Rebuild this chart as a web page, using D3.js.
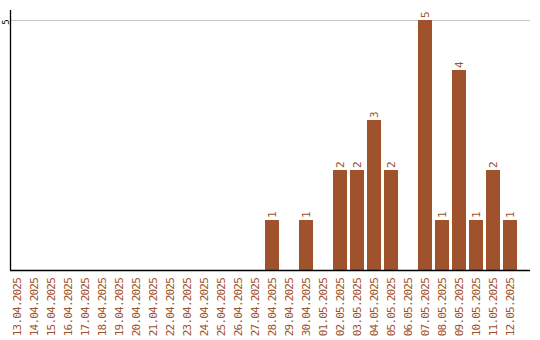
<!DOCTYPE html>
<html><head><meta charset="utf-8">
<script src="https://cdn.jsdelivr.net/npm/d3@7/dist/d3.min.js"></script>
<style>body{margin:0;background:#fff}svg{display:block}</style>
</head><body>
<svg id="c" width="540" height="340"></svg>
<script>
const categories = ["13.04.2025","14.04.2025","15.04.2025","16.04.2025","17.04.2025","18.04.2025","19.04.2025","20.04.2025","21.04.2025","22.04.2025","23.04.2025","24.04.2025","25.04.2025","26.04.2025","27.04.2025","28.04.2025","29.04.2025","30.04.2025","01.05.2025","02.05.2025","03.05.2025","04.05.2025","05.05.2025","06.05.2025","07.05.2025","08.05.2025","09.05.2025","10.05.2025","11.05.2025","12.05.2025"];
const values = [0,0,0,0,0,0,0,0,0,0,0,0,0,0,0,1,0,1,0,2,2,3,2,0,5,1,4,1,2,1];
const yTicks = [5];

const svg = d3.select("#c");
const color = "#a0522d";
const x = d3.scaleBand().domain(categories).range([8.5, 518.5]).paddingInner(3/17).paddingOuter(1.5/17);
const y = d3.scaleLinear().domain([0,5]).range([270,20]);
const font = "'DejaVu Sans Mono', monospace";
const rows = values.map((v,i)=>({c:categories[i],v})).filter(d=>d.v>0);

// gridlines
svg.append("g").selectAll("line").data(yTicks).join("line")
  .attr("x1", 11).attr("x2", 530).attr("y1", d=>y(d)+0.5).attr("y2", d=>y(d)+0.5)
  .attr("stroke", "#c8c8c8").attr("stroke-width", 1);

// bars
svg.append("g").selectAll("rect").data(rows).join("rect")
  .attr("x", d=>x(d.c)).attr("width", x.bandwidth())
  .attr("y", d=>y(d.v)).attr("height", d=>y(0)-y(d.v))
  .attr("fill", color);

// value labels
svg.append("g").selectAll("text").data(rows).join("text")
  .attr("transform", d=>`translate(${x(d.c)+x.bandwidth()/2+4},${y(d.v)-2}) rotate(-90)`)
  .attr("font-family", font).attr("font-size", 11).attr("fill", color)
  .text(d=>d.v);

// axes lines
svg.append("line").attr("x1",10.5).attr("x2",10.5).attr("y1",10).attr("y2",270).attr("stroke","#000").attr("stroke-width",1.3);
svg.append("line").attr("x1",10).attr("x2",530).attr("y1",270.5).attr("y2",270.5).attr("stroke","#000").attr("stroke-width",1.3);

// y tick labels
svg.append("g").selectAll("text").data(yTicks).join("text")
  .attr("transform", d=>`translate(8.5,${y(d)+2}) rotate(-90)`)
  .attr("text-anchor","middle")
  .attr("font-family", font).attr("font-size", 9).attr("fill", "#000")
  .text(d=>d);

// x labels
svg.append("g").selectAll("text").data(categories).join("text")
  .attr("transform", d=>`translate(${x(d)+x.bandwidth()/2+4},278) rotate(-90)`)
  .attr("text-anchor","end")
  .attr("font-family", font).attr("font-size", 11).attr("letter-spacing", "-0.8px").attr("fill", color)
  .text(d=>d);
</script>
</body></html>
